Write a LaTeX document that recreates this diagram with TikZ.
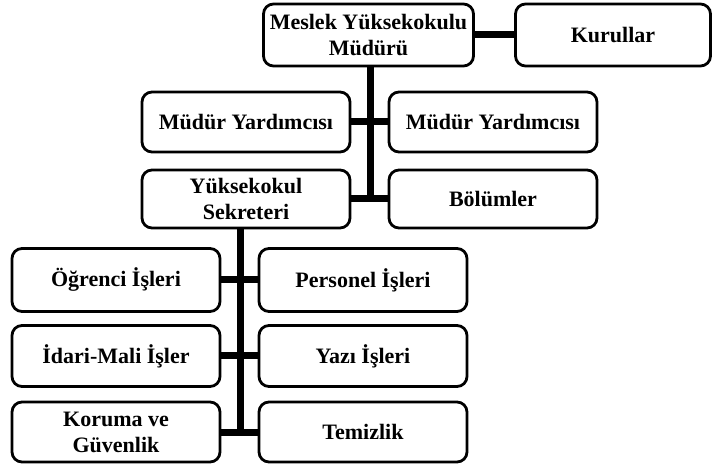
\documentclass[tikz,border=0pt]{standalone}
\usepackage{fontspec}
\setmainfont{Liberation Serif}
\tikzset{
  unit/.style={draw, line width=2.8pt, rounded corners=10pt, align=center,
    minimum width=208pt, minimum height=60pt, inner sep=2pt,
    font=\bfseries\fontsize{22}{26}\selectfont},
  link/.style={line width=7pt}
}
\begin{document}
\begin{tikzpicture}[x=1pt,y=-1pt]
\useasboundingbox (0,0) rectangle (713,465);
\node[unit, minimum width=210pt, minimum height=62pt] (mudur) at (368.5,35) {Meslek Yüksekokulu\\Müdürü};
\node[unit, minimum width=195pt, minimum height=62pt] (kurullar) at (613,35) {Kurullar};
\node[unit] (yard1) at (246,122) {Müdür Yardımcısı};
\node[unit] (yard2) at (493,122) {Müdür Yardımcısı};
\node[unit, minimum height=58pt] (sekreter) at (246,199) {Yüksekokul\\Sekreteri};
\node[unit, minimum height=58pt] (bolumler) at (493,199) {Bölümler};
\node[unit, minimum height=63pt] (ogrenci) at (116,280) {Öğrenci İşleri};
\node[unit, minimum height=63pt] (personel) at (363,280) {Personel İşleri};
\node[unit, minimum height=61pt] (idari) at (116,356) {İdari-Mali İşler};
\node[unit, minimum height=61pt] (yazi) at (363,356) {Yazı İşleri};
\node[unit] (koruma) at (116,432) {Koruma ve\\Güvenlik};
\node[unit] (temizlik) at (363,432) {Temizlik};

\coordinate (top) at ([xshift=1.5pt]mudur.south);
\coordinate (low) at ([xshift=-6pt]sekreter.south);

\path[draw,link] (mudur.east) -- (kurullar.west);
\path[draw,link] (top) -- (top |- bolumler.west);
\path[draw,link] (yard1.east) -- (yard2.west);
\path[draw,link] (sekreter.east) -- (bolumler.west);
\path[draw,link] (low) -- (low |- koruma.east);
\path[draw,link] (ogrenci.east) -- (personel.west);
\path[draw,link] (idari.east) -- (yazi.west);
\path[draw,link] (koruma.east) -- (temizlik.west);
\end{tikzpicture}
\end{document}
